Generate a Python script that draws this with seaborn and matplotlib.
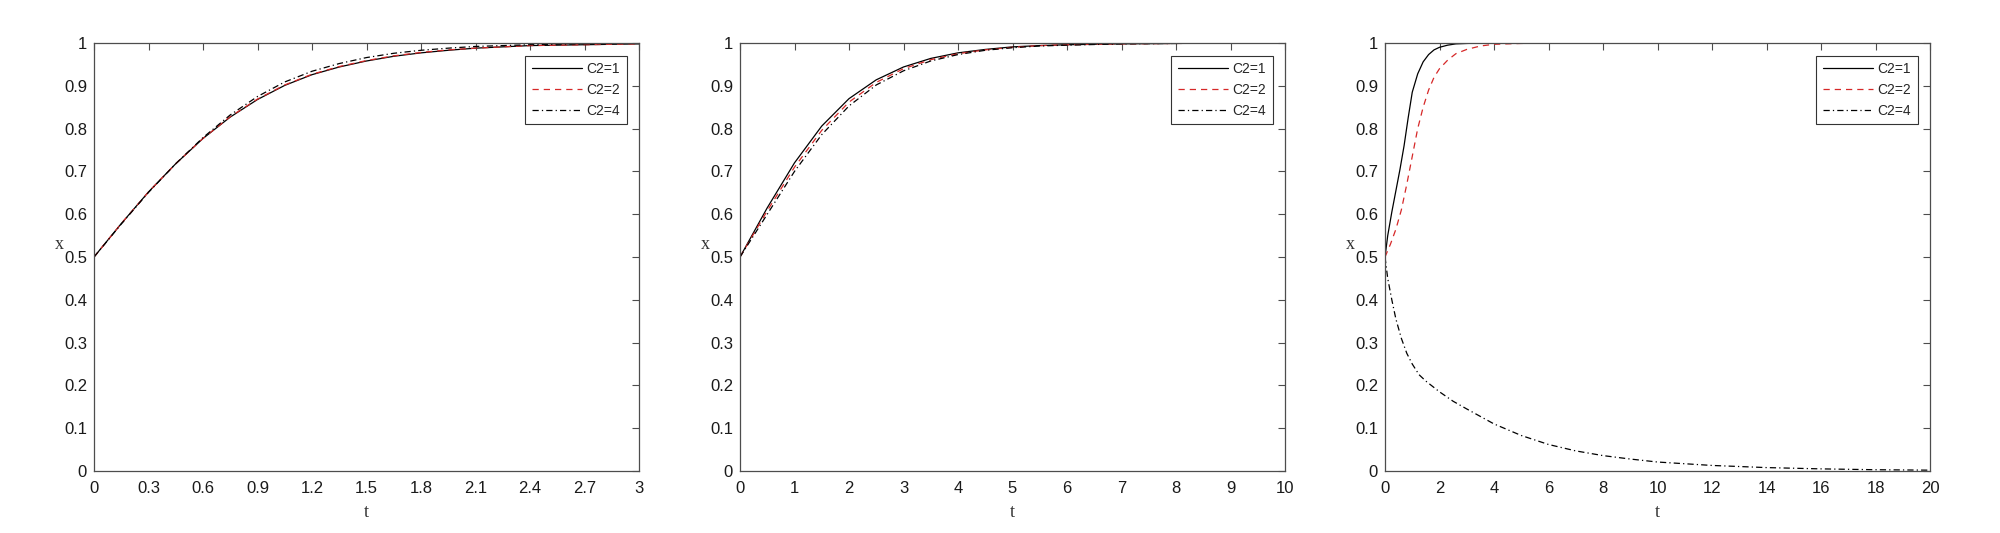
import matplotlib
matplotlib.use("Agg")
import matplotlib.pyplot as plt
import seaborn as sns
import pandas as pd
import numpy as np

# ---- data ----
levels = ["C2=1", "C2=2", "C2=4"]

# panel 1, t in [0, 3]
t1 = [0, 0.15, 0.3, 0.45, 0.6, 0.75, 0.9, 1.05, 1.2, 1.35, 1.5, 1.65, 1.8, 1.95,
      2.1, 2.25, 2.4, 2.55, 2.7, 2.85, 3.0]
p1_c1 = [0.5, 0.578, 0.652, 0.718, 0.777, 0.827, 0.868, 0.901, 0.926, 0.944, 0.958,
         0.969, 0.977, 0.983, 0.988, 0.991, 0.994, 0.995, 0.996, 0.997, 0.998]
p1_c2 = [0.5, 0.578, 0.652, 0.718, 0.777, 0.828, 0.869, 0.902, 0.927, 0.945, 0.959,
         0.970, 0.978, 0.984, 0.988, 0.991, 0.994, 0.995, 0.996, 0.997, 0.998]
p1_c4 = [0.5, 0.577, 0.651, 0.718, 0.779, 0.832, 0.875, 0.909, 0.934, 0.952, 0.966,
         0.976, 0.983, 0.988, 0.992, 0.994, 0.996, 0.997, 0.998, 0.999, 0.999]

# panel 2, t in [0, 10]
t2 = [0, 0.5, 1, 1.5, 2, 2.5, 3, 3.5, 4, 4.5, 5, 5.5, 6, 7, 8, 9, 10]
p2_c1 = [0.5, 0.615, 0.72, 0.806, 0.870, 0.914, 0.944, 0.964, 0.977, 0.985, 0.991,
         0.994, 0.996, 0.998, 0.999, 1.0, 1.0]
p2_c2 = [0.5, 0.608, 0.71, 0.796, 0.862, 0.908, 0.940, 0.961, 0.975, 0.984, 0.990,
         0.994, 0.996, 0.998, 0.999, 1.0, 1.0]
p2_c4 = [0.5, 0.600, 0.70, 0.786, 0.853, 0.902, 0.935, 0.958, 0.973, 0.983, 0.989,
         0.993, 0.995, 0.998, 0.999, 1.0, 1.0]

# panel 3, t in [0, 20]
t3_c1 = [0, 0.1, 0.25, 0.4, 0.55, 0.7, 0.85, 1.0, 1.2, 1.4, 1.6, 1.8, 2.0, 2.3,
         2.6, 3, 3.5, 4, 5, 20]
p3_c1 = [0.5, 0.55, 0.605, 0.655, 0.705, 0.76, 0.825, 0.885, 0.928, 0.956, 0.973,
         0.984, 0.990, 0.995, 0.998, 0.999, 1.0, 1.0, 1.0, 1.0]
t3_c2 = [0, 0.2, 0.4, 0.6, 0.8, 1.0, 1.2, 1.4, 1.6, 1.8, 2.0, 2.3, 2.6, 3.0, 3.5,
         4, 5, 6, 20]
p3_c2 = [0.5, 0.53, 0.565, 0.61, 0.67, 0.735, 0.8, 0.85, 0.89, 0.92, 0.94, 0.96,
         0.975, 0.985, 0.993, 0.997, 0.999, 1.0, 1.0]
t3_c4 = [0, 0.1, 0.25, 0.4, 0.6, 0.8, 1.0, 1.25, 1.5, 2, 2.5, 3, 4, 5, 6, 7, 8, 9,
         10, 12, 14, 16, 18, 20]
p3_c4 = [0.5, 0.45, 0.40, 0.355, 0.31, 0.275, 0.25, 0.225, 0.21, 0.185, 0.163,
         0.145, 0.11, 0.083, 0.062, 0.047, 0.036, 0.028, 0.021, 0.013, 0.008,
         0.005, 0.003, 0.002]

xticks1 = [0, 0.3, 0.6, 0.9, 1.2, 1.5, 1.8, 2.1, 2.4, 2.7, 3]
xticks2 = list(range(0, 11))
xticks3 = list(range(0, 21, 2))
yticks = [0, 0.1, 0.2, 0.3, 0.4, 0.5, 0.6, 0.7, 0.8, 0.9, 1]


def to_long(series):
    frames = []
    for lab, (t, x) in zip(levels, series):
        frames.append(pd.DataFrame({"t": t, "x": x, "case": lab}))
    return pd.concat(frames, ignore_index=True)


panels = [
    (to_long([(t1, p1_c1), (t1, p1_c2), (t1, p1_c4)]), (0, 3), xticks1),
    (to_long([(t2, p2_c1), (t2, p2_c2), (t2, p2_c4)]), (0, 10), xticks2),
    (to_long([(t3_c1, p3_c1), (t3_c2, p3_c2), (t3_c4, p3_c4)]), (0, 20), xticks3),
]

sns.set_theme(style="white")
plt.rcParams["font.family"] = ["Liberation Sans", "DejaVu Sans"]

palette = {"C2=1": "black", "C2=2": "#d62828", "C2=4": "black"}
dashes = {"C2=1": "", "C2=2": (5, 4), "C2=4": (5, 2.5, 1, 2.5)}
axis_col = "#4d4d4d"

fig = plt.figure(figsize=(20, 5.33), dpi=100)
lefts = [0.047, 0.370, 0.6925]

for left, (df, xlim, xt) in zip(lefts, panels):
    ax = fig.add_axes([left, 0.1163, 0.2725, 0.803])
    sns.lineplot(data=df, x="t", y="x", hue="case", style="case",
                 hue_order=levels, style_order=levels, palette=palette,
                 dashes=dashes, errorbar=None, linewidth=0.9, ax=ax)
    ax.set_xlim(*xlim)
    ax.set_ylim(0, 1)
    ax.set_xticks(xt)
    ax.set_xticklabels([f"{v:g}" for v in xt])
    ax.set_yticks(yticks)
    ax.set_yticklabels([f"{v:g}" for v in yticks])
    ax.tick_params(direction="in", top=True, right=True, length=5, width=0.8,
                   color=axis_col, labelsize=12, labelcolor="#1a1a1a")
    ax.tick_params(axis="y", pad=5)
    ax.tick_params(axis="x", pad=7)
    for sp in ax.spines.values():
        sp.set_color(axis_col)
        sp.set_linewidth(0.9)
    ax.set_xlabel("t", fontfamily="Liberation Serif", fontsize=13, color="#333333",
                  va="center")
    ax.set_ylabel("x", fontfamily="Liberation Serif", fontsize=13, color="#333333",
                  rotation=0, va="center", ha="center")
    ax.xaxis.set_label_coords(0.5, -0.096)
    ax.yaxis.set_label_coords(-0.064, 0.53)
    sns.move_legend(ax, "upper right", title=None, frameon=True, fancybox=False,
                    edgecolor="#333333", framealpha=1, fontsize=10,
                    handlelength=3.6, handletextpad=0.35, borderpad=0.45,
                    labelspacing=0.5, borderaxespad=0.9)
    ax.get_legend().get_frame().set_linewidth(0.8)

fig.savefig("out.png", dpi=100)
